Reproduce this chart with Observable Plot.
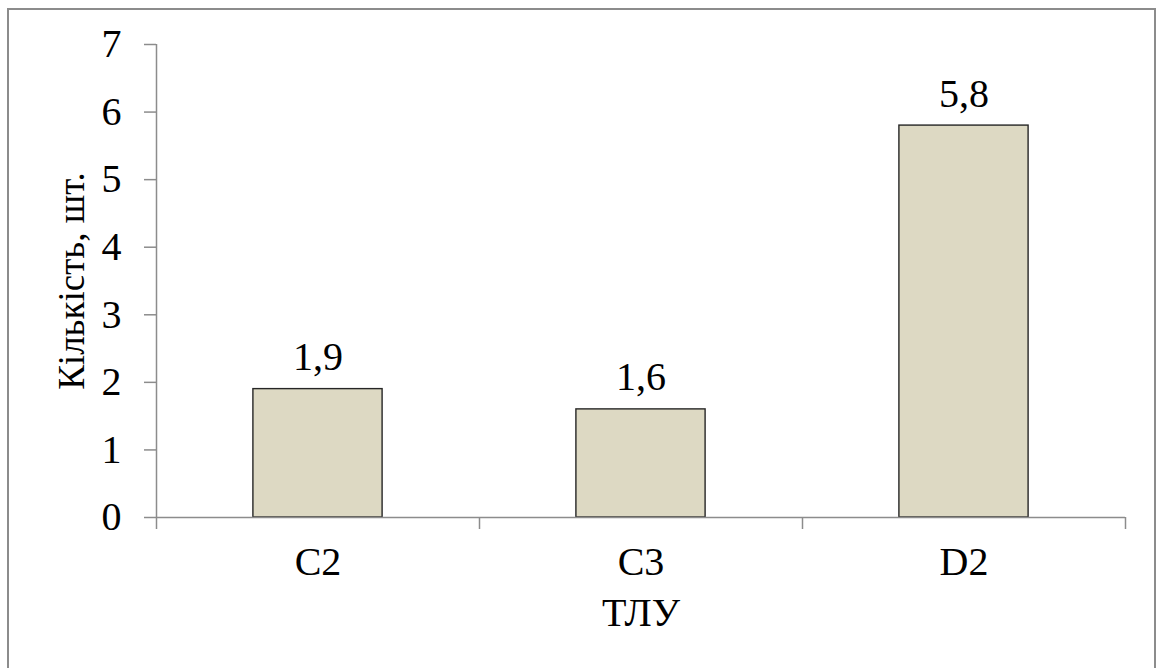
<!DOCTYPE html>
<html>
<head>
<meta charset="utf-8">
<script src="https://cdn.jsdelivr.net/npm/d3@7"></script>
<script src="https://cdn.jsdelivr.net/npm/@observablehq/plot@0.6"></script>
<style>
  html, body { margin: 0; padding: 0; background: #fff; }
  #wrap { position: relative; width: 1157px; height: 668px; overflow: hidden; }
  #border {
    position: absolute; left: 7px; top: 8px; right: 1px; bottom: -10px;
    border: 2px solid #8c8c8c; pointer-events: none;
  }
  svg { display: block; }
</style>
</head>
<body>
<div id="wrap"><div id="border"></div></div>
<script>
// Number of dredging units per category
const categories = ["C2", "C3", "D2"];
const values = [1.9, 1.6, 5.8];
const valueLabels = ["1,9", "1,6", "5,8"];
const yTicks = [0, 1, 2, 3, 4, 5, 6, 7];
const yTitle = "Кількість, шт.";
const xTitle = "ТЛУ";

const rows = categories.map((c, i) => ({cat: c, i, value: values[i], label: valueLabels[i]}));
const barHalf = 0.2; // bar occupies 40% of each category slot

const font = "'Liberation Serif', 'Times New Roman', serif";
const axisGray = "#8c8c8c";
const fs = 40;

const chart = Plot.plot({
  width: 1157,
  height: 668,
  marginLeft: 156,
  marginRight: 32,
  marginTop: 44,
  marginBottom: 151,
  style: {fontFamily: font, fontSize: fs + "px", color: "#000", background: "transparent"},
  x: {type: "linear", domain: [0, categories.length]},
  y: {domain: [0, 7]},
  marks: [
    Plot.rectY(rows, {
      x1: d => d.i + 0.5 - barHalf,
      x2: d => d.i + 0.5 + barHalf,
      y: "value",
      fill: "#ddd9c3",
      stroke: "#262626",
      strokeWidth: 1.4
    }),
    // axis lines
    Plot.ruleY([0], {stroke: axisGray, strokeWidth: 1.5}),
    Plot.ruleX([0], {stroke: axisGray, strokeWidth: 1.5}),
    Plot.axisY({
      ticks: yTicks,
      tickSize: 12,
      tickPadding: 23,
      tickFormat: d => String(d),
      stroke: axisGray,
      strokeWidth: 1.5,
      fill: "#000",
      fontSize: fs,
      label: null
    }),
    // category boundary ticks
    Plot.axisX({
      ticks: d3.range(categories.length + 1),
      tickSize: 12,
      tickFormat: () => "",
      stroke: axisGray,
      strokeWidth: 1.5,
      label: null
    }),
    // category names centred in each slot
    Plot.text(rows, {
      x: d => d.i + 0.5,
      text: "cat",
      frameAnchor: "bottom",
      dy: 57,
      fontSize: fs,
      fill: "#000"
    }),
    // value labels above bars
    Plot.text(rows, {
      x: d => d.i + 0.5,
      y: "value",
      text: "label",
      lineAnchor: "bottom",
      dy: -19,
      fontSize: fs,
      fill: "#000"
    }),
    // axis titles
    Plot.text([xTitle], {
      frameAnchor: "bottom",
      text: d => d,
      dy: 108,
      fontSize: fs,
      fill: "#000"
    }),
    Plot.text([yTitle], {
      frameAnchor: "left",
      textAnchor: "middle",
      text: d => d,
      rotate: -90,
      dx: -84,
      fontSize: 37,
      fill: "#000"
    })
  ]
});

document.getElementById("wrap").prepend(chart);
</script>
</body>
</html>
